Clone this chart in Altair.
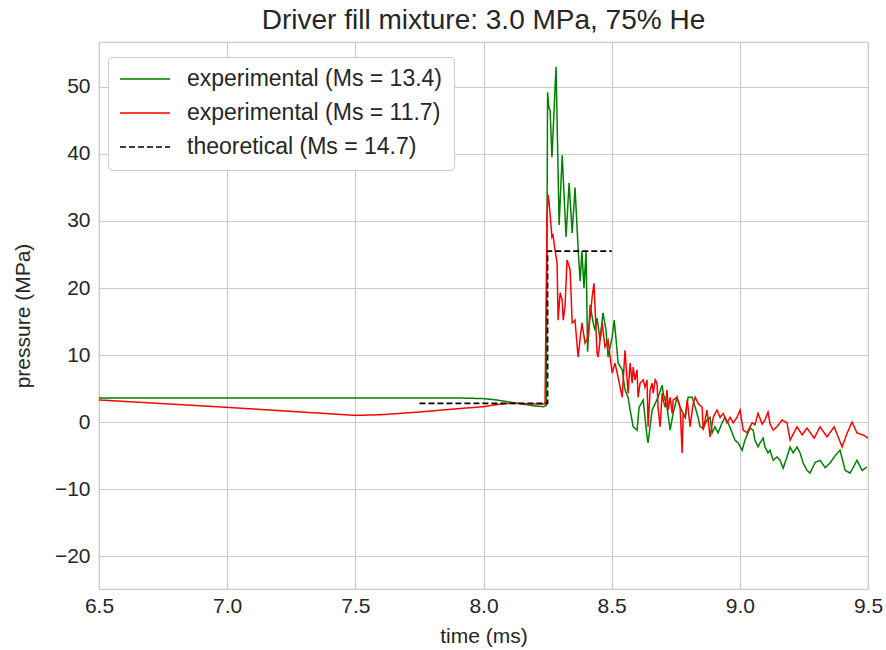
import altair as alt
import pandas as pd

# ---- data (time in ms, pressure in MPa) ----
green_t = [6.50, 7.00, 7.50, 7.90, 8.00, 8.05, 8.10, 8.15, 8.20, 8.235, 8.245,
           8.250, 8.255, 8.260, 8.267, 8.283, 8.295, 8.307, 8.322, 8.334, 8.346, 8.357, 8.369,
           8.377, 8.384, 8.392, 8.400, 8.406, 8.416, 8.427, 8.435, 8.443, 8.455, 8.466, 8.478,
           8.486, 8.502, 8.510, 8.521, 8.525, 8.541, 8.552, 8.564,
           8.572, 8.584, 8.599, 8.607, 8.623, 8.638, 8.642, 8.658, 8.670, 8.681, 8.697, 8.701,
           8.716, 8.728, 8.740, 8.755, 8.767, 8.779, 8.787, 8.798, 8.814, 8.826, 8.837, 8.845,
           8.857, 8.872, 8.884, 8.892, 8.903, 8.915, 8.931, 8.942, 8.954, 8.970, 8.981, 8.993,
           9.009, 9.020, 9.032, 9.040, 9.052, 9.059, 9.071, 9.079, 9.091, 9.098, 9.110, 9.118,
           9.130, 9.145, 9.157, 9.169, 9.184, 9.196, 9.208, 9.223, 9.235, 9.247, 9.262, 9.274,
           9.294, 9.313, 9.333, 9.352, 9.372, 9.391, 9.411, 9.430, 9.446, 9.457, 9.477, 9.496]
green_p = [3.6, 3.6, 3.6, 3.6, 3.5, 3.3, 3.0, 2.7, 2.4, 2.3, 2.5,
           49.2, 46.9, 46.5, 39.5, 53.0, 29.4, 39.8, 27.6, 35.7, 28.2, 35.0, 26.0,
           21.0, 25.5, 20.0, 25.5, 10.5, 17.5, 15.0, 13.7, 15.5, 12.2, 16.3, 13.7,
           9.7, 12.7, 15.2, 10.7, 8.8, 7.8, 4.8, 3.7,
           1.8, -0.7, -1.2, 2.2, 3.3, -2.2, -3.1, 1.8, 2.8, 3.7, 5.5, 4.3,
           2.2, -1.2, 1.3, 3.7, 2.2, 1.3, 0.7, 3.7, 3.7, 2.2, 0.7, -0.7,
           -0.9, 0.3, 0.7, -1.6, -0.7, -1.6, -0.1, 0.7, -0.1, -1.6, -2.7, -3.1,
           -4.2, -2.7, -1.6, -0.9, -1.2, -2.7, -3.7, -3.1, -2.4, -3.7, -4.6, -4.2,
           -5.7, -5.2, -5.7, -6.9, -5.2, -3.7, -4.6, -3.7, -4.6, -6.1, -7.2, -7.6,
           -6.0, -5.7, -6.8, -6.1, -5.0, -4.2, -7.2, -7.6, -6.5, -5.7, -7.2, -6.7]

red_t = [6.50, 7.00, 7.25, 7.50, 7.60, 7.75, 7.90, 8.00, 8.05, 8.10, 8.20, 8.24,
         8.248, 8.252, 8.256, 8.267, 8.271, 8.279, 8.287, 8.291, 8.299, 8.307, 8.311, 8.318,
         8.326, 8.338, 8.346, 8.357, 8.369, 8.384, 8.396, 8.408, 8.424, 8.431, 8.443, 8.447,
         8.463, 8.474, 8.486, 8.502, 8.513, 8.525, 8.541, 8.552, 8.564, 8.572, 8.580, 8.584,
         8.591, 8.599, 8.603, 8.611, 8.623, 8.630, 8.638, 8.642, 8.650, 8.658, 8.662, 8.670,
         8.677, 8.681, 8.689, 8.697, 8.701, 8.709, 8.716, 8.720, 8.728, 8.736, 8.740, 8.755,
         8.767, 8.775, 8.779, 8.787, 8.795, 8.806, 8.818, 8.826, 8.837, 8.853, 8.857, 8.872,
         8.884, 8.896, 8.911, 8.923, 8.935, 8.950, 8.962, 8.974, 8.989, 9.001, 9.013, 9.028,
         9.048, 9.059, 9.071, 9.087, 9.098, 9.110, 9.118, 9.130, 9.145, 9.165, 9.184, 9.196,
         9.223, 9.243, 9.262, 9.290, 9.313, 9.340, 9.368, 9.399, 9.419, 9.438, 9.457, 9.485,
         9.500]
red_p = [3.3, 2.2, 1.6, 1.0, 1.1, 1.5, 2.0, 2.3, 2.6, 2.8, 2.7, 2.7,
         31.2, 33.9, 32.7, 27.6, 27.9, 25.7, 23.7, 15.2, 19.3, 18.2, 15.2, 17.2,
         24.2, 22.7, 14.8, 15.2, 9.7, 14.8, 11.8, 12.7, 18.7, 20.7, 10.3, 9.7,
         14.8, 11.2, 12.2, 7.3, 8.8, 6.7, 3.7, 10.7, 4.3, 8.8, 5.8, 8.2,
         6.3, 7.8, 3.7, 5.8, 6.3, 5.2, 6.3, -0.7, 4.8, 5.8, 4.3, 6.3,
         5.8, 2.2, -0.7, 4.3, 3.3, 2.2, 4.8, 1.8, 3.7, 1.3, 3.3, 3.7,
         2.2, -4.6, 1.3, 0.7, 3.3, -0.7, 2.8, 3.7, 2.8, 2.2, -1.2, 1.8,
         -2.2, 0.7, 1.8, 0.7, 1.3, -0.1, 0.7, -0.1, 0.7, 1.8, -1.2, -1.6,
         -0.1, -0.4, 1.3, -0.3, 0.3, 1.5, -0.3, -1.2, -0.7, 0.3, -0.1, -2.7,
         -0.7, -1.9, -0.9, -2.4, -0.7, -2.2, -0.7, -3.7, -1.6, 0.0, -1.6, -2.0,
         -2.4]

theo_t = [7.75, 8.25, 8.25, 8.50]
theo_p = [2.8, 2.8, 25.5, 25.5]

series_names = ["experimental (Ms = 13.4)", "experimental (Ms = 11.7)", "theoretical (Ms = 14.7)"]
series_colors = ["#008000", "#ff0000", "#000000"]
series_dash = [[1, 0], [1, 0], [6, 3]]

x_ticks = [6.5, 7.0, 7.5, 8.0, 8.5, 9.0, 9.5]
y_ticks = [-20, -10, 0, 10, 20, 30, 40, 50]

rows = []
for name, ts, ps in zip(series_names, [green_t, red_t, theo_t], [green_p, red_p, theo_p]):
    for i, (t, p) in enumerate(zip(ts, ps)):
        rows.append({"series": name, "t": t, "p": p, "idx": i})
df = pd.DataFrame(rows)

FONT = "Liberation Sans"
TXT = "#262626"

x_enc = alt.X("t:Q", scale=alt.Scale(domain=[6.5, 9.5], nice=False, zero=False),
              axis=alt.Axis(values=x_ticks, format=".1f", title="time (ms)",
                            labelPadding=6, titlePadding=9))
y_enc = alt.Y("p:Q", scale=alt.Scale(domain=[-24.9, 56.7], nice=False, zero=False),
              axis=alt.Axis(values=y_ticks, format="d", title="pressure (MPa)",
                            labelPadding=9, titlePadding=21))
color_enc = alt.Color("series:N", scale=alt.Scale(domain=series_names, range=series_colors),
                      legend=alt.Legend(title=None, orient="none", legendX=9, legendY=15,
                                        symbolType="stroke", symbolSize=2500, symbolStrokeWidth=1.5,
                                        clipHeight=22, rowPadding=11, labelFontSize=23,
                                        labelFont=FONT, labelColor=TXT, labelOffset=16,
                                        padding=11, strokeColor="#cccccc", fillColor="white",
                                        cornerRadius=4, labelLimit=500))
dash_enc = alt.StrokeDash("series:N", scale=alt.Scale(domain=series_names, range=series_dash),
                          legend=None)

layers = []
for name, w in zip(series_names, [1.5, 1.5, 1.7]):
    layers.append(
        alt.Chart(df).transform_filter(alt.datum.series == name)
        .mark_line(strokeWidth=w, clip=True)
        .encode(x=x_enc, y=y_enc, color=color_enc, strokeDash=dash_enc,
                order=alt.Order("idx:Q"))
    )

chart = alt.layer(*layers).properties(
    width=769, height=547,
    background="white",
    title=alt.TitleParams("Driver fill mixture: 3.0 MPa, 75% He", fontSize=28, font=FONT,
                          fontWeight="normal", color=TXT, anchor="middle", offset=7),
    autosize=alt.AutoSizeParams(type="none"),
    padding={"left": 99, "top": 42, "right": 18, "bottom": 61},
).configure_axis(
    domain=False, ticks=False, grid=True, gridColor="#cccccc", gridWidth=1.2,
    labelFont=FONT, labelFontSize=21, labelColor=TXT, labelOverlap=False, labelFlush=False,
    titleFont=FONT, titleFontSize=21, titleColor=TXT, titleFontWeight="normal",
).configure_view(stroke="#cccccc", strokeWidth=1.2)

chart.save("out.html", embed_options={"renderer": "svg", "actions": False})
